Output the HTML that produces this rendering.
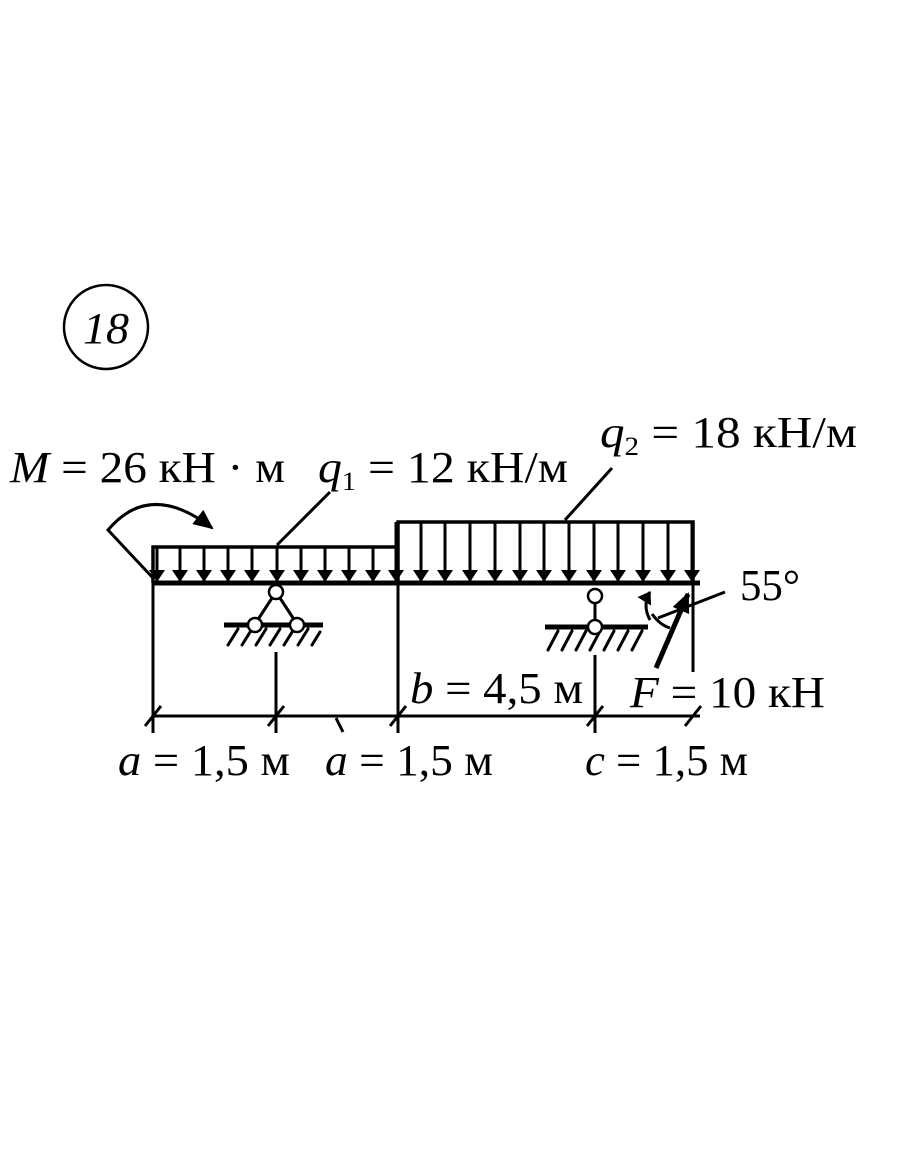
<!DOCTYPE html>
<html><head><meta charset="utf-8"><style>
html,body{margin:0;padding:0;background:#fff;}
svg{display:block}
text{font-family:"Liberation Serif",serif;font-size:44px;fill:#000}
</style></head><body>
<svg width="910" height="1155" viewBox="0 0 910 1155" xmlns="http://www.w3.org/2000/svg">
<defs>
<marker id="ah" markerWidth="12" markerHeight="16" refX="11" refY="8" orient="auto" markerUnits="userSpaceOnUse"><path d="M0,0 L12,8 L0,16 Z" fill="#000"/></marker>
<marker id="ahb" markerWidth="20" markerHeight="18" refX="18" refY="9" orient="auto" markerUnits="userSpaceOnUse"><path d="M0,0 L20,9 L0,18 Z" fill="#000"/></marker>
</defs>
<circle cx="106" cy="327" r="42" fill="none" stroke="#000" stroke-width="2.5"/>
<text x="83" y="343" font-style="italic" textLength="46" lengthAdjust="spacingAndGlyphs">18</text>

<g stroke="#000" fill="none" stroke-width="3.5">
<line x1="153" y1="583" x2="700" y2="583" stroke-width="5"/>
<polyline points="153,583 153,547 398,547"/>
<polyline points="398,583 398,522 693,522 693,583"/>
</g>
<g stroke="#000" stroke-width="3" marker-end="url(#ah)">
<line x1="157" y1="547" x2="157" y2="581"/>
<line x1="180" y1="547" x2="180" y2="581"/>
<line x1="204" y1="547" x2="204" y2="581"/>
<line x1="228" y1="547" x2="228" y2="581"/>
<line x1="252" y1="547" x2="252" y2="581"/>
<line x1="277" y1="547" x2="277" y2="581"/>
<line x1="301" y1="547" x2="301" y2="581"/>
<line x1="325" y1="547" x2="325" y2="581"/>
<line x1="349" y1="547" x2="349" y2="581"/>
<line x1="373" y1="547" x2="373" y2="581"/>
<line x1="396" y1="522" x2="396" y2="581"/>
<line x1="421" y1="522" x2="421" y2="581"/>
<line x1="445" y1="522" x2="445" y2="581"/>
<line x1="470" y1="522" x2="470" y2="581"/>
<line x1="495" y1="522" x2="495" y2="581"/>
<line x1="520" y1="522" x2="520" y2="581"/>
<line x1="544" y1="522" x2="544" y2="581"/>
<line x1="569" y1="522" x2="569" y2="581"/>
<line x1="594" y1="522" x2="594" y2="581"/>
<line x1="618" y1="522" x2="618" y2="581"/>
<line x1="643" y1="522" x2="643" y2="581"/>
<line x1="668" y1="522" x2="668" y2="581"/>
<line x1="692" y1="522" x2="692" y2="581"/>
</g>
<g stroke="#000" fill="none" stroke-width="3">
<path d="M153,578 L108,530 Q150,480 212,528" marker-end="url(#ahb)"/>
<line x1="277" y1="545" x2="330" y2="492"/>
<line x1="565" y1="520" x2="612" y2="468"/>
<line x1="276" y1="592" x2="255" y2="624"/>
<line x1="276" y1="592" x2="297" y2="624"/>
<line x1="224" y1="625" x2="323" y2="625" stroke-width="5"/>
<line x1="595" y1="596" x2="595" y2="627"/>
<line x1="545" y1="627" x2="648" y2="627" stroke-width="5"/>
<line x1="153" y1="583" x2="153" y2="733"/>
<line x1="276" y1="652" x2="276" y2="733"/>
<line x1="398" y1="583" x2="398" y2="733"/>
<line x1="595" y1="655" x2="595" y2="733"/>
<line x1="693" y1="583" x2="693" y2="672"/>
<line x1="153" y1="716" x2="700" y2="716"/>
<line x1="145" y1="726" x2="161" y2="706"/>
<line x1="268" y1="726" x2="284" y2="706"/>
<line x1="390" y1="726" x2="406" y2="706"/>
<line x1="587" y1="726" x2="603" y2="706"/>
<line x1="685" y1="726" x2="701" y2="706"/>
<line x1="336" y1="718" x2="343" y2="732"/>
<line x1="656" y1="668" x2="688" y2="594" stroke-width="5" marker-end="url(#ahb)"/>
<path d="M650,620 Q642,605 650,592" marker-end="url(#ah)"/>
<path d="M652,614 Q660,625 670,628"/>
<line x1="658" y1="618" x2="725" y2="592"/>
</g>
<g stroke="#000" stroke-width="3" stroke-linecap="round">
<line x1="228" y1="645" x2="238" y2="629"/><line x1="242" y1="645" x2="252" y2="629"/><line x1="256" y1="645" x2="266" y2="629"/><line x1="270" y1="645" x2="280" y2="629"/><line x1="284" y1="645" x2="294" y2="629"/><line x1="298" y1="645" x2="308" y2="629"/><line x1="312" y1="645" x2="320" y2="632"/>
<line x1="548" y1="650" x2="558" y2="631"/><line x1="562" y1="650" x2="572" y2="631"/><line x1="576" y1="650" x2="586" y2="631"/><line x1="590" y1="650" x2="600" y2="631"/><line x1="604" y1="650" x2="614" y2="631"/><line x1="618" y1="650" x2="628" y2="631"/><line x1="632" y1="650" x2="642" y2="631"/>
</g>
<g fill="#fff" stroke="#000" stroke-width="2.5">
<circle cx="276" cy="592" r="7"/>
<circle cx="255" cy="625" r="7"/>
<circle cx="297" cy="625" r="7"/>
<circle cx="595" cy="596" r="7"/>
<circle cx="595" cy="627" r="7"/>
</g>

<text x="10" y="482" textLength="275" lengthAdjust="spacingAndGlyphs"><tspan font-style="italic">M</tspan> = 26 кН · м</text>
<text x="318" y="482" textLength="250" lengthAdjust="spacingAndGlyphs"><tspan font-style="italic">q</tspan><tspan font-size="26" dy="8">1</tspan><tspan dy="-8"> = 12 кН/м</tspan></text>
<text x="600" y="447" textLength="257" lengthAdjust="spacingAndGlyphs"><tspan font-style="italic">q</tspan><tspan font-size="26" dy="8">2</tspan><tspan dy="-8"> = 18 кН/м</tspan></text>
<text x="740" y="600" textLength="60" lengthAdjust="spacingAndGlyphs">55°</text>
<text x="410" y="703" textLength="173" lengthAdjust="spacingAndGlyphs"><tspan font-style="italic">b</tspan> = 4,5 м</text>
<text x="630" y="707" textLength="195" lengthAdjust="spacingAndGlyphs"><tspan font-style="italic">F</tspan> = 10 кН</text>
<text x="118" y="775" textLength="172" lengthAdjust="spacingAndGlyphs"><tspan font-style="italic">a</tspan> = 1,5 м</text>
<text x="325" y="775" textLength="168" lengthAdjust="spacingAndGlyphs"><tspan font-style="italic">a</tspan> = 1,5 м</text>
<text x="585" y="775" textLength="163" lengthAdjust="spacingAndGlyphs"><tspan font-style="italic">c</tspan> = 1,5 м</text>
</svg>
</body></html>
